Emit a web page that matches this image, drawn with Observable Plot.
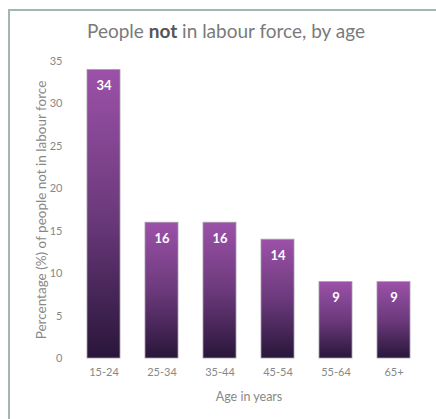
<!DOCTYPE html>
<html>
<head>
<meta charset="utf-8">
<script src="https://cdn.jsdelivr.net/npm/d3@7"></script>
<script src="https://cdn.jsdelivr.net/npm/@observablehq/plot@0.6"></script>
<style>
  html, body { margin: 0; padding: 0; background: #fff; overflow: hidden; }
  #wrap { position: relative; width: 436px; height: 419px; }
  #frame { position: absolute; left: 8px; top: 9px; width: 460px; height: 460px; border: 2px solid #a3b6b6; box-sizing: border-box; }
  #title { position: absolute; left: 0; top: 19px; width: 452px; text-align: center; font-family: Lato, "Open Sans", sans-serif; font-size: 19px; color: #7a7a7a; }
  #title b { color: #555; }
  #chart { position: absolute; left: 0; top: 48px; }
</style>
</head>
<body>
<div id="wrap">
  <div id="frame"></div>
  <div id="title">People <b>not</b> in labour force, by age</div>
  <div id="chart"></div>
</div>
<script>
const ageGroups = ["15-24", "25-34", "35-44", "45-54", "55-64", "65+"];
const percentages = [34, 16, 16, 14, 9, 9];
const yTicks = [0, 5, 10, 15, 20, 25, 30, 35];

const data = ageGroups.map((a, i) => ({age: a, pct: percentages[i]}));

const plot = Plot.plot({
  width: 436,
  height: 371,
  marginTop: 13,
  marginBottom: 61,
  marginLeft: 72,
  marginRight: 11,
  style: {fontFamily: "Lato, 'Open Sans', sans-serif", fontSize: "11px", color: "#888"},
  x: {domain: ageGroups, paddingInner: 0.43, paddingOuter: 0.215, label: "Age in years", tickSize: 0, tickPadding: 10, labelAnchor: "center", labelOffset: 42},
  y: {domain: [0, 35], ticks: yTicks, label: "Percentage (%) of people not in labour force", tickSize: 0, tickPadding: 10, labelAnchor: "center", labelOffset: 36, labelArrow: "none"},
  marks: [
    Plot.ruleY(yTicks, {x1: -0.5, stroke: "#bcbcbc", strokeWidth: 1.5}),
    Plot.barY(data, {x: "age", y: "pct", fill: "url(#barGrad)", stroke: "#a899ad", strokeWidth: 0.8}),
    Plot.text(data, {x: "age", y: "pct", text: d => String(d.pct), dy: 16, fill: "white", fontWeight: "bold", fontSize: 13})
  ]
});

const svg = d3.select(plot);
const defs = svg.insert("defs", ":first-child");
const grad = defs.append("linearGradient").attr("id", "barGrad").attr("x1", 0).attr("y1", 0).attr("x2", 0).attr("y2", 1);
grad.append("stop").attr("offset", "0%").attr("stop-color", "#9c51a8");
grad.append("stop").attr("offset", "50%").attr("stop-color", "#6c3a7c");
grad.append("stop").attr("offset", "100%").attr("stop-color", "#29163a");

svg.selectAll('[aria-label="y-axis label"] text').attr("font-size", 13.5);
svg.selectAll('[aria-label="x-axis label"] text').attr("font-size", 12.5);

document.getElementById("chart").appendChild(plot);
</script>
</body>
</html>
